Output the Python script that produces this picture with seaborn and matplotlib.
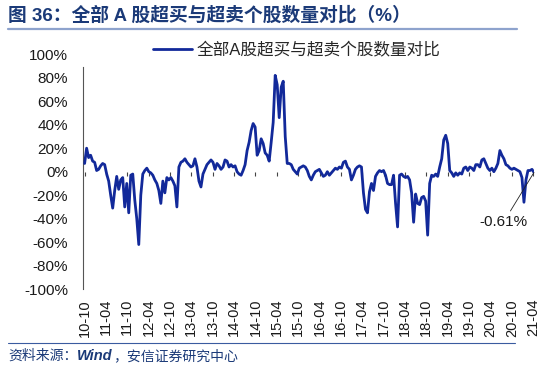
import pandas as pd
import matplotlib.pyplot as plt
from matplotlib.lines import Line2D
import seaborn as sns

ratio = [7, 20, 12, 14, 9, 8, 1, 2, 5, 7,
         6, -2, -8, -20, -31, -16, -4, -15, -7, -5,
         -30, -10, -35, -3, -2, -24, -40, -62, -20, -2,
         1, 3, 0, -1, -3, -7, -10, -16, -27, -8,
         -18, -5, -7, -5, -8, -12, -30, 4, 8, 9,
         11, 8, 6, 4, 5, 11, 4, -8, -13, -2,
         2, 6, 8, 10, 8, 2, 7, 5, 2, 4,
         10, 9, 4, 6, 4, 5, 0, -2, -3, 1,
         6, 18, 25, 35, 41, 38, 14, 18, 28, 24,
         16, 14, 9, 25, 42, 82, 74, 46, 72, 77,
         30, 7, 7, 6, 2, 0, -2, 3, 4, 5,
         4, 1, -4, -7, -3, 0, 1, 2, -1, -4,
         -3, 0, -3, -1, 1, 3, 2, 4, 3, 8,
         9, 4, 2, -7, -3, 2, 4, 5, 4, -18,
         -32, -35, -17, -10, -16, -4, -1, 1, 0, 1,
         -3, -10, -11, -11, -3, -27, -47, -3, -2, -4,
         -5, -4, -7, -18, -43, -19, -27, -28, -22, -21,
         -25, -54, -10, -3, -4, -2, -4, 4, 11, 27,
         31, 24, 1, -1, -4, -1, -3, -1, -2, 3,
         4, 1, 4, 3, 1, 6, 6, 4, 10, 11,
         7, 3, 1, 3, 0, 3, 7, 18, 14, 11,
         6, 5, 3, 2, 3, 2, 1, 0, -5, -26,
         -7, 1, 1, 2, -0.61]
first_date, last_date = '2010-10-01', '2021-04-09'
tick_labels = ['10-10', '11-04', '11-10', '12-04', '12-10', '13-04', '13-10',
               '14-04', '14-10', '15-04', '15-10', '16-04', '16-10', '17-04',
               '17-10', '18-04', '18-10', '19-04', '19-10', '20-04', '20-10',
               '21-04']
y_ticks = [-100, -80, -60, -40, -20, 0, 20, 40, 60, 80, 100]
series_name = '全部A股超买与超卖个股数量对比'
last_note = '-0.61%'

blue = '#12299A'
navy = '#1B3A78'

sns.set_theme(style='white')
plt.rcParams['font.family'] = ['Liberation Sans', 'Noto Sans CJK SC']

df = pd.DataFrame({'date': pd.date_range(first_date, last_date, periods=len(ratio)),
                   'ratio': ratio})

fig = plt.figure(figsize=(5.5, 3.69), dpi=100)
ax = fig.add_axes([0.1515, 0.2163, 0.8196, 0.6368])

sns.lineplot(data=df, x='date', y='ratio', ax=ax, color=blue, lw=2.0,
             label=series_name, zorder=3)

ax.set_xlim(pd.Timestamp('2010-09-20'), pd.Timestamp('2021-04-10'))
ax.set_ylim(-100, 100)
ax.set_xlabel('')
ax.set_ylabel('')

# x labels at the bottom, tick marks on the zero line
tick_dates = pd.date_range('2010-10-01', periods=len(tick_labels), freq='6MS')
ax.set_xticks(tick_dates)
ax.set_xticklabels(tick_labels, rotation=90, fontsize=10.5, color='#1a1a1a')
ax.tick_params(axis='x', length=0, pad=7)

ax.set_yticks(y_ticks)
ax.set_yticklabels([f'{v}%' for v in y_ticks], fontsize=11, color='#1a1a1a')
ax.tick_params(axis='y', direction='in', length=3, width=0.8, color='#555555', pad=11)
ax.yaxis.get_major_ticks()[-1].tick1line.set_visible(False)

for s in ['top', 'right', 'bottom']:
    ax.spines[s].set_visible(False)
ax.spines['left'].set_color('#555555')
ax.spines['left'].set_linewidth(0.8)
ax.spines['left'].set_bounds(-100, 89)

zero = ax.secondary_xaxis(0.5)
zero.set_zorder(1)
zero.set_xticks(tick_dates)
zero.tick_params(axis='x', direction='in', length=3, width=0.8, color='#444444',
                 labelbottom=False, labeltop=False)
zero.spines['bottom'].set_color('#444444')
zero.spines['bottom'].set_linewidth(0.8)
for s in ['top', 'left', 'right']:
    zero.spines[s].set_visible(False)

ax.legend(loc='center', bbox_to_anchor=(0.54, 0.8645), bbox_transform=fig.transFigure,
          frameon=False, handlelength=2.3, handletextpad=0.3, fontsize=12)

ax.annotate(last_note, xy=(df['date'].iloc[-1], ratio[-1]), xytext=(-22, -36),
            textcoords='offset points', ha='center', va='center', fontsize=11,
            color='#1a1a1a',
            arrowprops=dict(arrowstyle='-', color='#222222', lw=0.6,
                            shrinkA=1, shrinkB=0))

# header and footer
fig.text(8 / 550, 1 - 15 / 369, '图 36：全部 A 股超买与超卖个股数量对比（%）',
         fontsize=13.5, fontweight='bold', color=navy, va='center', ha='left')
fig.add_artist(Line2D([8 / 550, 517 / 550], [1 - 29 / 369] * 2, color='#8EA3CD', lw=1.6))
fig.add_artist(Line2D([8 / 550, 515 / 550], [1 - 342.5 / 369] * 2, color='#3A5BA0', lw=0.8))

src = fig.text(8 / 550, 1 - 356 / 369, '资料来源：', fontsize=10, color=navy,
               va='center', ha='left', style='italic')
wind = ax.annotate('Wind', xy=(1, 0.5), xycoords=src, va='center', ha='left',
                   fontsize=10.5, color=navy, style='italic', fontweight='bold',
                   family='Liberation Sans', annotation_clip=False)
ax.annotate('，安信证券研究中心', xy=(1, 0.5), xycoords=wind, va='center', ha='left',
            fontsize=10, color=navy, style='italic', annotation_clip=False)

fig.savefig('out.png', dpi=100)
